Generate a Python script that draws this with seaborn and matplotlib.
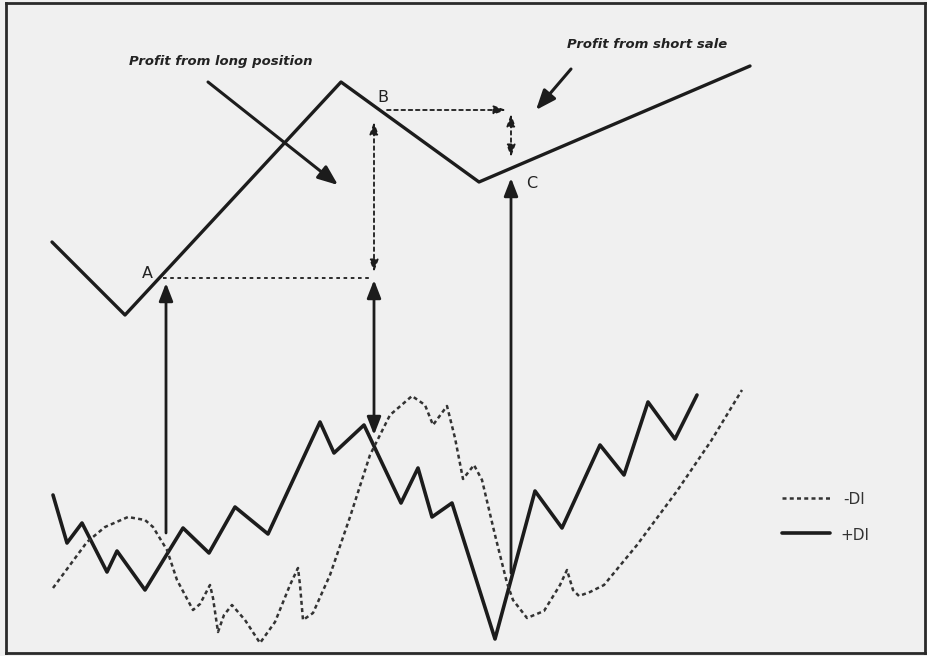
"""Directional movement schematic: price swings with +DI / -DI crossovers."""
import matplotlib
matplotlib.use("Agg")
import matplotlib.pyplot as plt
import pandas as pd
import seaborn as sns

INK = "#1c1c1c"
BG = "#f0f0f0"

# price swing (top panel), chart units: x = time, y = level (axis inverted)
price_x = [52, 125, 341, 479, 750]
price_y = [242, 315, 82, 182, 66]

# +DI, solid
plus_x = [53, 67, 82, 107, 117, 145, 183, 209, 235, 268, 320, 334, 364, 401, 418,
          432, 452, 495, 535, 562, 600, 624, 648, 675, 697]
plus_y = [495, 543, 523, 572, 551, 590, 528, 553, 507, 534, 422, 453, 425, 503, 468,
          517, 503, 639, 491, 528, 445, 475, 402, 439, 395]

# -DI, dotted
minus_x = [53, 70, 87, 105, 128, 145, 153, 167, 177, 193, 200, 210, 213, 218, 224,
           232, 245, 260, 275, 290, 298, 300, 303, 313, 330, 350, 370, 390, 412, 425,
           433, 447, 455, 463, 474, 482, 495, 507, 513, 527, 544, 560, 567, 573, 579,
           590, 604, 637, 677, 711, 742]
minus_y = [588, 565, 542, 527, 517, 520, 527, 550, 580, 610, 604, 585, 598, 632, 615,
           605, 620, 643, 622, 585, 568, 585, 620, 613, 575, 517, 455, 415, 396, 405,
           425, 406, 438, 479, 465, 480, 535, 583, 600, 618, 611, 585, 570, 590, 596,
           592, 585, 545, 491, 441, 390]

# signal markers: crossover time, bottom of stem, price level hit
signal_x = [166, 374, 511]
signal_lo = [533, 435, 573]
signal_hi = [283, 280, 178]

point_labels = ["A", "B", "C"]
label_x = [147, 383, 532]
label_y = [273, 97, 183]

price = pd.DataFrame({"t": price_x, "v": price_y})
plus = pd.DataFrame({"t": plus_x, "v": plus_y})
minus = pd.DataFrame({"t": minus_x, "v": minus_y})

sns.set_theme(style="white")
plt.rcParams["font.family"] = ["DejaVu Sans"]

fig = plt.figure(figsize=(9.28, 6.56), dpi=100, facecolor=BG)
ax = fig.add_axes([6 / 928, 3 / 656, 919 / 928, 650 / 656])
ax.set_facecolor(BG)
ax.set_xlim(6, 925)
ax.set_ylim(653, 3)
ax.set_xticks([]); ax.set_yticks([])
for s in ax.spines.values():
    s.set_color("#2a2a2a"); s.set_linewidth(2)

sns.lineplot(data=price, x="t", y="v", sort=False, estimator=None, ax=ax,
             color=INK, lw=2.4)
sns.lineplot(data=plus, x="t", y="v", sort=False, estimator=None, ax=ax,
             color=INK, lw=2.6, label="+DI")
sns.lineplot(data=minus, x="t", y="v", sort=False, estimator=None, ax=ax,
             color="#333333", lw=1.8, dashes=(1.6, 1.3), label="-DI")
ax.set_xlabel(""); ax.set_ylabel("")
ax.get_legend().remove()

# legend drawn by hand to mimic the book figure
ax.plot([782, 830], [498, 498], color="#333333", lw=1.8, dashes=(1.6, 1.3))
ax.plot([782, 830], [533, 533], color=INK, lw=2.6)
ax.text(843, 500, "-DI", fontsize=11, va="center", color="#333333")
ax.text(840, 536, "+DI", fontsize=11, va="center", color="#333333")

# solid signal arrows
solid = dict(arrowstyle="-|>,head_length=0.9,head_width=0.35", color=INK, lw=2,
             shrinkA=0, shrinkB=0)
ax.annotate("", xy=(signal_x[0], signal_hi[0]), xytext=(signal_x[0], signal_lo[0]),
            arrowprops=solid)
ax.annotate("", xy=(signal_x[1], signal_hi[1]), xytext=(signal_x[1], signal_lo[1]),
            arrowprops=dict(solid, arrowstyle="<|-|>,head_length=0.9,head_width=0.35"))
ax.annotate("", xy=(signal_x[2], signal_hi[2]), xytext=(signal_x[2], signal_lo[2]),
            arrowprops=solid)

# dotted guides
dot = dict(color=INK, lw=1.3, linestyle=(0, (2, 2)), shrinkA=0, shrinkB=0)
ax.plot([163, 372], [278, 278], color=INK, lw=1.3, dashes=(2, 2))
ax.annotate("", xy=(374, 272), xytext=(374, 122),
            arrowprops=dict(dot, arrowstyle="<|-|>,head_length=0.6,head_width=0.22"))
ax.annotate("", xy=(506, 110), xytext=(387, 110),
            arrowprops=dict(dot, arrowstyle="-|>,head_length=0.6,head_width=0.22"))
ax.annotate("", xy=(511, 157), xytext=(511, 114),
            arrowprops=dict(dot, arrowstyle="<|-|>,head_length=0.6,head_width=0.22"))

# callout arrows
call = dict(arrowstyle="-|>,head_length=1.0,head_width=0.4", color=INK, lw=2.2,
            shrinkA=0, shrinkB=0)
ax.annotate("", xy=(338, 185), xytext=(208, 82), arrowprops=call)
ax.annotate("", xy=(536, 110), xytext=(571, 69), arrowprops=call)

ax.text(221, 61, "Profit from long position", fontsize=9.5, style="italic",
        weight="bold", ha="center", va="center", color="#222222")
ax.text(647, 45, "Profit from short sale", fontsize=9.5, style="italic",
        weight="bold", ha="center", va="center", color="#222222")

for lab, lx, ly in zip(point_labels, label_x, label_y):
    ax.text(lx, ly, lab, fontsize=11.5, ha="center", va="center", color="#222222")

fig.savefig("out.png", dpi=100, facecolor=BG)
